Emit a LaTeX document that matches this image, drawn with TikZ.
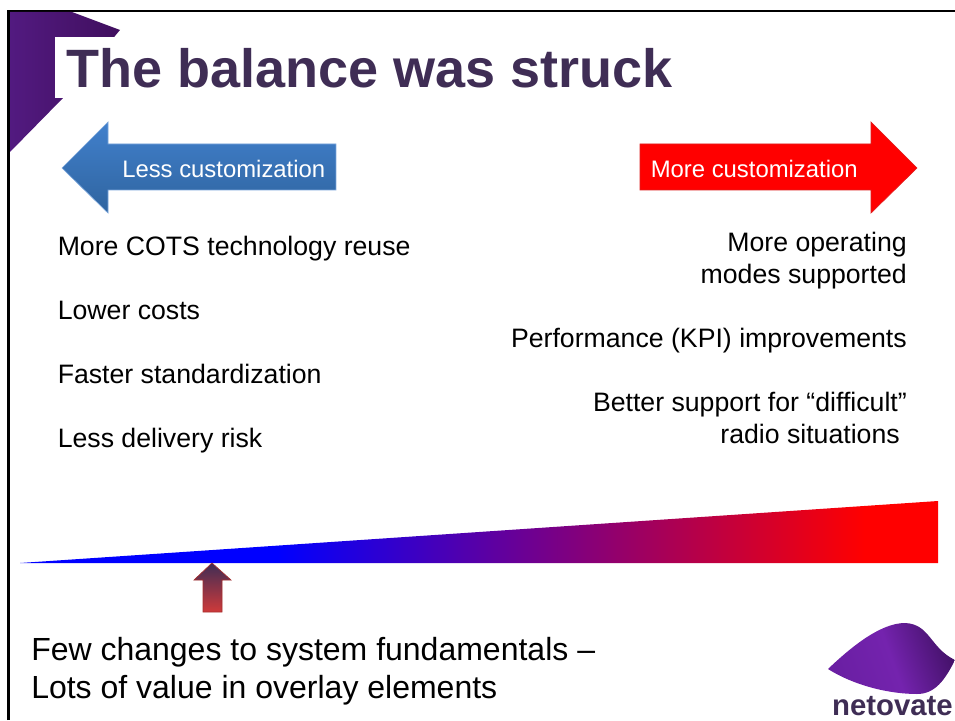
\documentclass[tikz,border=0pt]{standalone}
\usepackage{fontspec}
\setmainfont{Liberation Sans}
\definecolor{titleplum}{HTML}{3F2D55}
\definecolor{cornerleft}{HTML}{521A80}
\definecolor{cornerright}{HTML}{400F5E}
\definecolor{leafleft}{HTML}{6A1FA3}
\definecolor{leafmid}{HTML}{7423AE}
\definecolor{leafdark}{HTML}{45126B}
\definecolor{bluetop}{HTML}{4180CC}
\definecolor{bluebot}{HTML}{2F649F}
\definecolor{pointerbot}{HTML}{CF3A3A}
\pgfdeclarehorizontalshading{wedgeshade}{100bp}{
  color(0bp)=(blue); color(39bp)=(blue); color(71bp)=(red); color(100bp)=(red)}
\pgfdeclarehorizontalshading{leafshade}{100bp}{
  color(0bp)=(leafleft); color(25bp)=(leafleft); color(50bp)=(leafmid); color(75bp)=(leafdark); color(100bp)=(leafdark)}
\tikzset{
  bodytext/.style={font=\fontsize{20}{24}\selectfont, black, inner sep=0pt},
  bigtext/.style={font=\fontsize{24}{28.5}\selectfont, black, inner sep=0pt, align=left},
  arrowtext/.style={font=\fontsize{17.9}{24}\selectfont, white, inner sep=0pt},
  titletext/.style={font=\bfseries\fontsize{40.5}{44}\selectfont, titleplum, inner sep=0pt},
  logotext/.style={font=\bfseries\fontsize{22}{24}\selectfont, titleplum, inner sep=0pt}
}
\begin{document}
\begin{tikzpicture}[x=0.75pt,y=-0.75pt]
  \useasboundingbox (0,0) rectangle (955,720);
  \fill[white] (0,0) rectangle (955,720);
  \draw[black, line width=2.2pt] (8.5,720)--(8.5,11)--(955,11);

  % corner and title
  \shade[left color=cornerleft, right color=cornerright] (10,12)--(72,12)--(120,30)--(63,98)--(10,152)--cycle;
  \fill[white] (55,37) rectangle (130,98);
  \node[titletext, anchor=base west] (title) at (66,88) {The balance was struck};

  % arrows
  \shade[top color=bluetop, bottom color=bluebot, draw=bluetop!70!white, line width=0.5pt]
    (62,168)--(108,122)--(108,144)--(336,144)--(336,190)--(108,190)--(108,213)--cycle;
  \fill[red, draw=red!75!gray, line width=0.5pt]
    (917,168)--(871,122)--(871,144)--(640,144)--(640,190)--(871,190)--(871,213)--cycle;
  \node[arrowtext, anchor=base west] (less) at (122,177.5) {Less customization};
  \node[arrowtext, anchor=base west] (more) at (650.5,177.5) {More customization};

  % left column
  \node[bodytext, anchor=base west] (cots) at (57.5,255) {More COTS technology reuse};
  \node[bodytext, anchor=base west] (costs) at (57.5,319) {Lower costs};
  \node[bodytext, anchor=base west] (faster) at (57.5,383) {Faster standardization};
  \node[bodytext, anchor=base west] (risk) at (57.5,447) {Less delivery risk};

  % right column
  \node[bodytext, anchor=base east] (modesa) at (907,251.5) {More operating};
  \node[bodytext, anchor=base east] (modesb) at (907,283.5) {modes supported};
  \node[bodytext, anchor=base east] (kpi) at (907,347.5) {Performance (KPI) improvements};
  \node[bodytext, anchor=base east] (radioa) at (907,411.5) {Better support for “difficult”};
  \node[bodytext, anchor=base east] (radiob) at (900,443.5) {radio situations};

  % balance
  \shade[shading=wedgeshade] (20,563)--(938,501)--(938,563)--cycle;
  \shade[top color=titleplum, bottom color=pointerbot, draw=pointerbot!80!black, line width=0.5pt]
    (212,563)--(231,580)--(222,580)--(222,612)--(203,612)--(203,580)--(194,580)--cycle;

  \node[bigtext, anchor=north west] (fewchanges) at (31,637) {Few changes to system fundamentals --\\Lots of value in overlay elements};

  % logo
  \shade[shading=leafshade, shading angle=20]
    (828,669) .. controls (850,648) and (880,623) .. (905,623)
    .. controls (930,624) and (930,648) .. (955,660)
    .. controls (945,680) and (935,694) .. (917,694)
    .. controls (890,694) and (855,686) .. (828,669)--cycle;
  \node[logotext, anchor=base east] (logo) at (953,715) {netovate};
\end{tikzpicture}
\end{document}
